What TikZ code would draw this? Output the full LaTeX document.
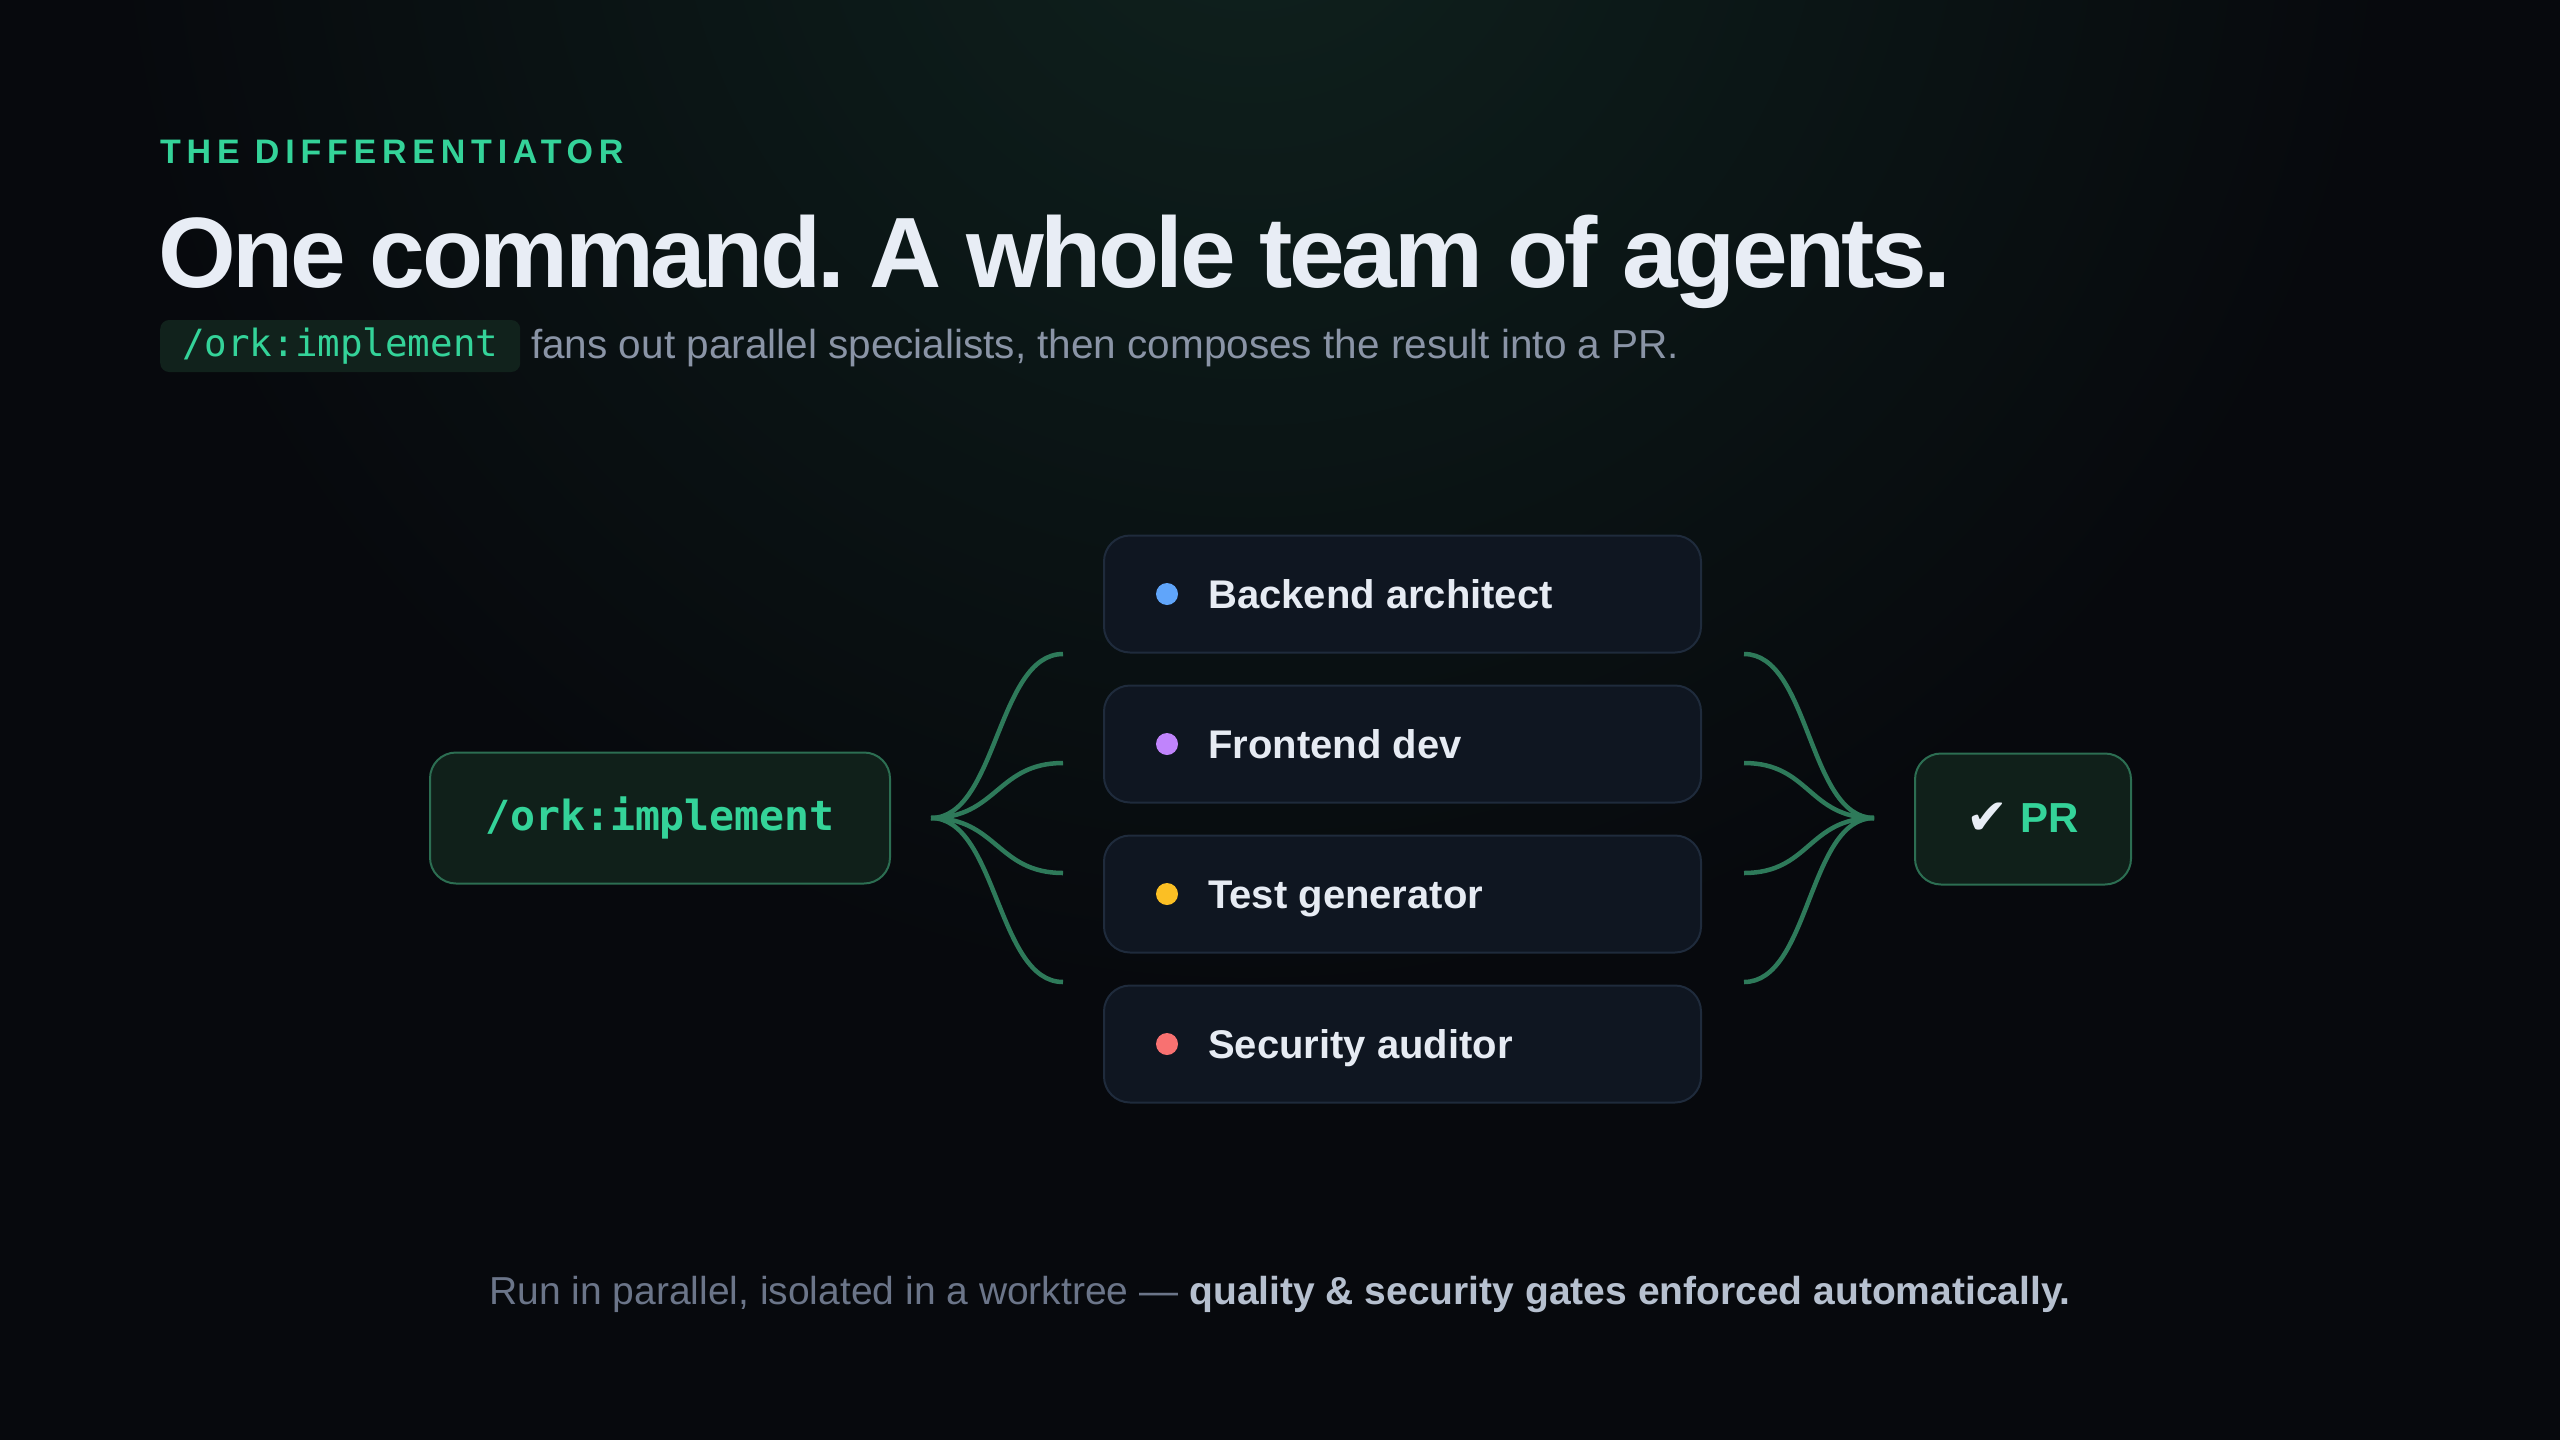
\documentclass[tikz,border=0pt]{standalone}
\usepackage{fontspec}
\setmainfont{Liberation Sans}
\newfontfamily\titlefont[LetterSpace=-3.5]{Liberation Sans}
\newfontfamily\eyebrowfont[LetterSpace=17]{Liberation Sans}
\newfontfamily\codefont{DejaVu Sans Mono}
\newfontfamily\symfont{DejaVu Sans}
\usetikzlibrary{calc}
\definecolor{bg}{HTML}{07090D}
\definecolor{glow}{HTML}{0F221E}
\definecolor{accent}{HTML}{34D399}
\definecolor{titlecol}{HTML}{E8EDF5}
\definecolor{subgray}{HTML}{8A94A6}
\definecolor{pillfill}{HTML}{11221C}
\definecolor{nodefill}{HTML}{10201A}
\definecolor{nodeborder}{HTML}{2C6E52}
\definecolor{curvecol}{HTML}{2E7A5A}
\definecolor{boxfill}{HTML}{0F1621}
\definecolor{boxborder}{HTML}{1F2B3C}
\definecolor{boxtext}{HTML}{E6EBF3}
\definecolor{footgray}{HTML}{6B7589}
\definecolor{footbold}{HTML}{B6C0CF}
\definecolor{dotblue}{HTML}{60A5FA}
\definecolor{dotpurple}{HTML}{C084FC}
\definecolor{dotyellow}{HTML}{FBBF24}
\definecolor{dotred}{HTML}{F87171}
\tikzset{
  endnode/.style={draw=nodeborder, line width=2pt, fill=nodefill, rounded corners=26pt, inner sep=0pt},
  agentbox/.style={draw=boxborder, line width=2pt, fill=boxfill, rounded corners=26pt, minimum width=597pt, minimum height=117pt, inner sep=0pt},
  agentlabel/.style={anchor=base west, inner sep=0pt, text=boxtext, font=\fontsize{40}{48}\selectfont\bfseries},
  agentdot/.style={circle, fill=#1, minimum size=22pt, inner sep=0pt},
  fanline/.style={draw=curvecol, line width=4.5pt},
}
\frenchspacing
\begin{document}
\begin{tikzpicture}[x=1pt,y=-1pt]
\useasboundingbox (0,0) rectangle (2560,1440);
\fill[bg] (0,0) rectangle (2560,1440);
\begin{scope}
\clip (0,0) rectangle (2560,1440);
\shade[inner color=glow, outer color=bg] (1250,-150) circle (1150);
\end{scope}

% header
\node[anchor=base west, inner sep=0pt, text=accent, font=\eyebrowfont\fontsize{34}{40}\selectfont\bfseries] (eyebrow) at (160,163) {THE DIFFERENTIATOR};
\node[anchor=base west, inner sep=0pt, text=titlecol, font=\titlefont\fontsize{100}{110}\selectfont\bfseries] (title) at (158,287) {One command. A whole team of agents.};
\node[anchor=west, fill=pillfill, rounded corners=9pt, minimum height=52pt, minimum width=360pt, inner sep=0pt, text=accent, font=\codefont\fontsize{37.5}{44}\selectfont] (pill) at (160,346) {/ork:implement};
\node[anchor=base west, inner sep=0pt, text=subgray, font=\fontsize{40.5}{48}\selectfont] (subtitle) at (531,358) {fans out parallel specialists, then composes the result into a PR.};

% main nodes
\node[endnode, minimum width=460pt, minimum height=131pt, text=accent, font=\codefont\fontsize{41.5}{48}\selectfont\bfseries] (cmd) at (660,818) {/ork:implement};
\node[endnode, minimum width=216pt, minimum height=131pt] (pr) at (2023,819) {{\symfont\fontsize{50}{56}\selectfont\color{titlecol}\raisebox{-2pt}{✔}}\hspace{12pt}{\fontsize{42}{48}\selectfont\bfseries\color{accent}PR}};

% agent boxes
\foreach \i/\y/\c/\t in {1/594/dotblue/Backend architect, 2/744/dotpurple/Frontend dev, 3/894/dotyellow/Test generator, 4/1044/dotred/Security auditor}{
  \node[agentbox] (a\i) at (1402.5,\y) {};
  \node[agentdot=\c] (d\i) at ($(a\i.west)+(64,0)$) {};
  \node[agentlabel] (t\i) at ($(a\i.west)+(105,14)$) {\t};
}

% fan coordinates
\coordinate (fanL) at (931,818);
\coordinate (fanR) at (1874,818);
\foreach \i/\y in {1/654,2/763,3/873,4/982}{
  \coordinate (l\i) at (1063,\y);
  \coordinate (r\i) at (1744,\y);
}
\foreach \i in {1,2,3,4}{
  \draw[fanline] (fanL) .. controls +(66,0) and +(-66,0) .. (l\i);
  \draw[fanline] (r\i) .. controls +(66,0) and +(-66,0) .. (fanR);
}

% footer
\node[anchor=base, inner sep=0pt, font=\fontsize{39}{46}\selectfont] (footer) at (1280,1304) {{\color{footgray}Run in parallel, isolated in a worktree — }{\bfseries\color{footbold}quality \& security gates enforced automatically.}};
\end{tikzpicture}
\end{document}
